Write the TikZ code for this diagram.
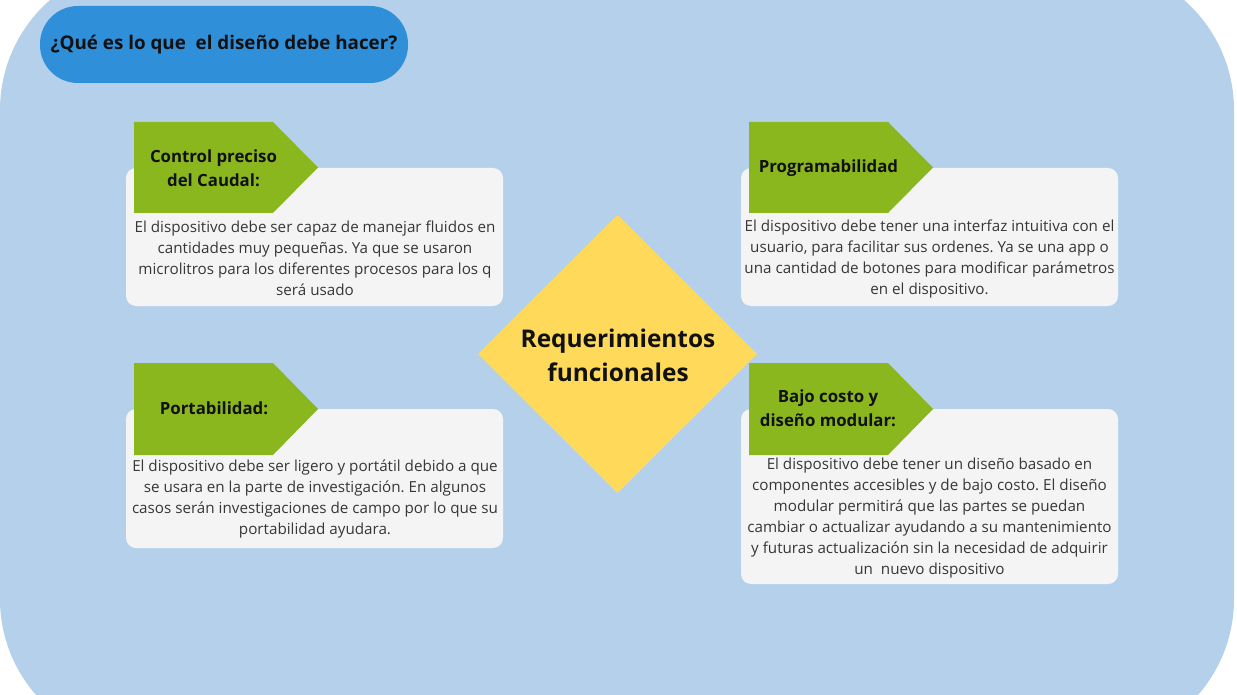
\documentclass[tikz,border=0pt]{standalone}
\usepackage{fontspec}
\setmainfont{Open Sans}
\frenchspacing
\usetikzlibrary{shapes.geometric}
\definecolor{bgblue}{RGB}{180,208,235}
\definecolor{pillblue}{RGB}{47,143,216}
\definecolor{leaf}{RGB}{138,182,30}
\definecolor{sun}{RGB}{255,218,90}
\definecolor{card}{RGB}{244,244,244}
\definecolor{bodytxt}{RGB}{55,55,55}
\definecolor{headtxt}{RGB}{17,17,17}
\tikzset{
  cardbox/.style={fill=card, rounded corners=10pt, minimum width=377pt, inner sep=0pt, draw=none},
  bodytext/.style={text=bodytxt, align=center, inner sep=0pt, font=\fontsize{15.2}{21}\selectfont},
  headtext/.style={text=headtxt, align=center, inner sep=0pt, font=\fontsize{16.8}{24}\selectfont\bfseries},
  tag/.style={fill=leaf},
}
\begin{document}
\begin{tikzpicture}[x=1pt,y=-1pt]
\useasboundingbox (0,0) rectangle (1237,695);
\fill[white] (0,0) rectangle (1237,695);
\fill[bgblue, rounded corners=146pt] (0,-36) rectangle (1234,745);

% title pill
\node[fill=pillblue, rounded corners=38pt, minimum width=368pt, minimum height=77pt, inner sep=0pt,
      text=headtxt, font=\fontsize{18.8}{22}\selectfont\bfseries] (title) at (224,44.5)
      {¿Qué es lo que\ \ el diseño debe hacer?};

% cards
\node[cardbox, minimum height=138pt] (c1) at (314.5,237) {};
\node[cardbox, minimum height=138pt] (c2) at (929.5,237) {};
\node[cardbox, minimum height=139pt] (c3) at (314.5,478.5) {};
\node[cardbox, minimum height=175pt] (c4) at (929.5,496.5) {};

% green tags
\fill[tag] (134,122) -- (273,122) -- (318,167.5) -- (273,213) -- (134,213) -- cycle;
\fill[tag] (749,122) -- (888,122) -- (933,167.5) -- (888,213) -- (749,213) -- cycle;
\fill[tag] (134,363) -- (273,363) -- (318,409) -- (273,455) -- (134,455) -- cycle;
\fill[tag] (749,363) -- (888,363) -- (933,409) -- (888,455) -- (749,455) -- cycle;

\node[headtext] (h1) at (213.5,168) {Control preciso\\del Caudal:};
\node[headtext] (h2) at (828.5,168) {Programabilidad};
\node[headtext] (h3) at (214,408) {Portabilidad:};
\node[headtext] (h4) at (828,408.5) {Bajo costo y\\diseño modular:};

\node[bodytext] (t1) at (315,258.5) {El dispositivo debe ser capaz de manejar fluidos en\\cantidades muy pequeñas. Ya que se usaron\\microlitros para los diferentes procesos para los q\\será usado};
\node[bodytext] (t2) at (929.5,259) {El dispositivo debe tener una interfaz intuitiva con el\\usuario, para facilitar sus ordenes. Ya se una app o\\una cantidad de botones para modificar parámetros\\en el dispositivo.};
\node[bodytext] (t3) at (315,499) {El dispositivo debe ser ligero y portátil debido a que\\se usara en la parte de investigación. En algunos\\casos serán investigaciones de campo por lo que su\\portabilidad ayudara.};
\node[bodytext] (t4) at (929.5,518) {El dispositivo debe tener un diseño basado en\\componentes accesibles y de bajo costo. El diseño\\modular permitirá que las partes se puedan\\cambiar o actualizar ayudando a su mantenimiento\\y futuras actualización sin la necesidad de adquirir\\un\ \ nuevo dispositivo};

% diamond
\fill[sun] (617.5,215) -- (757,354) -- (617.5,493) -- (478,354) -- cycle;
\node[text=headtxt, align=center, inner sep=0pt, font=\fontsize{24.4}{34}\selectfont\bfseries] (center) at (618,355)
  {Requerimientos\\funcionales};
\end{tikzpicture}
\end{document}
